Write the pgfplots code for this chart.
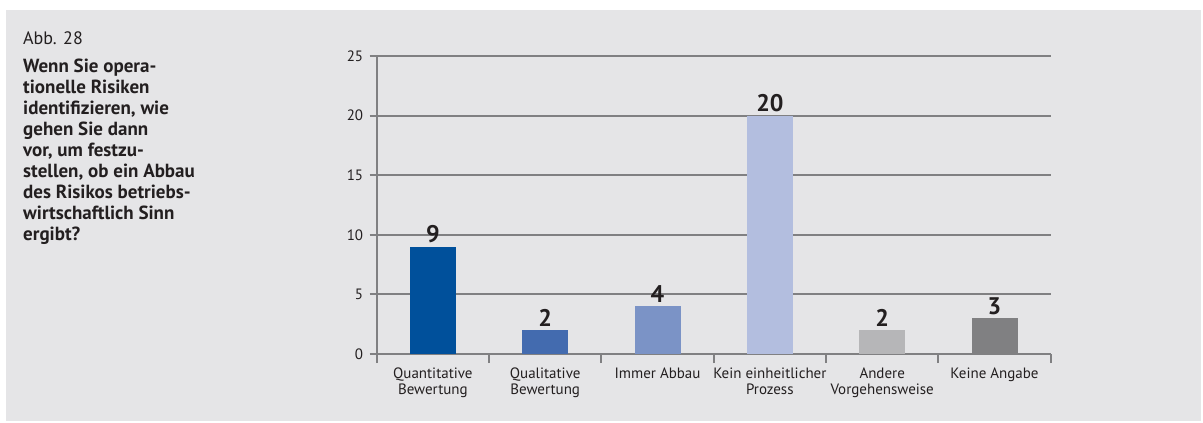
\documentclass[border=0pt]{standalone}
\usepackage{pgfplots}
\pgfplotsset{compat=1.18}
\usepackage{fontspec}
\setmainfont{PT Sans}
\definecolor{bg}{HTML}{E5E5E7}
\definecolor{gridc}{HTML}{808082}
\definecolor{txt}{HTML}{231F20}
\definecolor{cA}{HTML}{00509B}
\definecolor{cB}{HTML}{436BAF}
\definecolor{cC}{HTML}{7B93C6}
\definecolor{cD}{HTML}{B3BEDF}
\definecolor{cE}{HTML}{B6B6B8}
\definecolor{cF}{HTML}{808082}
\begin{document}
\begin{tikzpicture}[x=1pt,y=1pt]
\fill[white] (0,0) rectangle (1203,423);
\fill[bg] (6,2) rectangle (1201,413);
\node[anchor=base west, inner sep=0, text=txt, font=\fontsize{18}{21}\selectfont] at (23,378) {Abb. 28};
\node[anchor=north west, inner sep=0, align=left, text=txt, font=\fontsize{19}{21}\selectfont\bfseries] at (23,364) {Wenn Sie opera-\\tionelle Risiken\\identifizieren, wie\\gehen Sie dann\\vor, um festzu-\\stellen, ob ein Abbau\\des Risikos betriebs-\\wirtschaftlich Sinn\\ergibt?};
\begin{axis}[
  at={(376.7pt,69pt)}, anchor=south west,
  scale only axis, width=674pt, height=298pt,
  xmin=0, xmax=6, ymin=0, ymax=25,
  axis x line=bottom, axis y line=left,
  axis line style={-, draw=gridc, line width=2pt},
  ytick={0,5,...,25},
  ymajorgrids, grid style={draw=gridc, line width=2pt},
  xtick={0.5,1.5,...,5.5},
  xticklabels={{Quantitative\\Bewertung},{Qualitative\\Bewertung},{Immer Abbau},{Kein einheitlicher\\Prozess},{Andere\\Vorgehensweise},{Keine Angabe}},
  minor xtick={0,1,...,6},
  tick align=outside,
  major tick length=7pt, minor tick length=9pt,
  x tick style={draw=none},
  minor x tick style={draw=gridc, line width=2pt},
  y tick style={draw=gridc, line width=2pt},
  xticklabel style={align=center, text=txt, font=\fontsize{15}{16.7}\selectfont, yshift=-3pt},
  yticklabel style={text=txt, font=\fontsize{15}{16}\selectfont, xshift=-3pt},
  /pgf/number format/assume math mode=true,
  ybar, bar width=46pt, bar shift=0pt,
  nodes near coords,
  every node near coord/.append style={text=txt, font=\fontsize{24}{26}\selectfont\bfseries, inner sep=3.5pt},
  clip=false,
]
\addplot[fill=cA, draw=none] coordinates {(0.5,9)};
\addplot[fill=cB, draw=none] coordinates {(1.5,2)};
\addplot[fill=cC, draw=none] coordinates {(2.5,4)};
\addplot[fill=cD, draw=none] coordinates {(3.5,20)};
\addplot[fill=cE, draw=none] coordinates {(4.5,2)};
\addplot[fill=cF, draw=none] coordinates {(5.5,3)};
\end{axis}
\end{tikzpicture}
\end{document}
